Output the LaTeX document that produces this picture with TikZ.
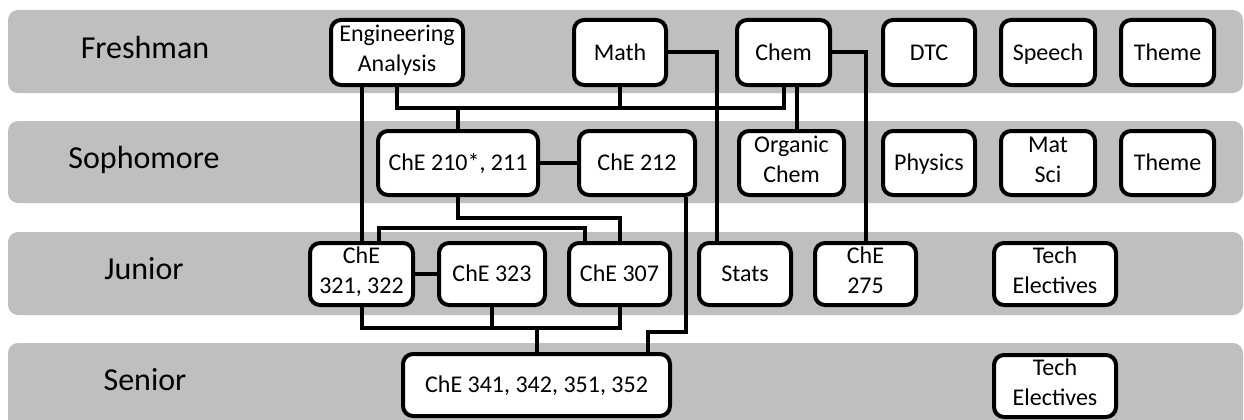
\documentclass[tikz,border=0pt]{standalone}
\usepackage{fontspec}
\setmainfont{Carlito}
\definecolor{bandgray}{RGB}{191,191,191}
\begin{document}
\begin{tikzpicture}[x=1pt,y=-1pt,
  band/.style={fill=bandgray, rounded corners=10pt},
  yearlabel/.style={anchor=base, inner sep=0pt, font=\fontsize{32}{38}\selectfont},
  crs/.style={draw=black, line width=4pt, fill=white, rounded corners=10pt, inner sep=0pt,
    font=\fontsize{24}{30}\selectfont, align=center, text height=15.5pt, text depth=0pt},
  crstwo/.style={crs, text height=38pt, text depth=0pt},
  conn/.style={line width=4pt}]
\clip (0,0) rectangle (1244,420);
% bands
\fill[band] (8,10) rectangle (1243,93);
\fill[band] (8,121) rectangle (1243,203);
\fill[band] (8,232) rectangle (1243,315);
\fill[band] (8,343) rectangle (1243,450);
% year labels
\node[yearlabel] (fr) at (145,58.3) {Freshman};
\node[yearlabel] (so) at (144,168) {Sophomore};
\node[yearlabel] (ju) at (144,279) {Junior};
\node[yearlabel] (se) at (145,390) {Senior};
% freshman
\node[crstwo, minimum width=132pt, minimum height=65pt] (ea) at (397,52.5) {Engineering\\Analysis};
\node[crs, minimum width=92pt, minimum height=65pt] (math) at (620,52.5) {Math};
\node[crs, minimum width=93pt, minimum height=65pt] (chem) at (783.5,52.5) {Chem};
\node[crs, minimum width=92pt, minimum height=65pt] (dtc) at (929,52.5) {DTC};
\node[crs, minimum width=94pt, minimum height=65pt] (speech) at (1048,52.5) {Speech};
\node[crs, minimum width=93pt, minimum height=65pt] (theme) at (1167.5,52.5) {Theme};
% sophomore
\node[crs, minimum width=160pt, minimum height=64pt] (c210) at (458,163) {ChE 210*, 211};
\node[crs, minimum width=116pt, minimum height=64pt] (c212) at (637,163) {ChE 212};
\node[crstwo, minimum width=105pt, minimum height=64pt] (org) at (791.5,163) {Organic\\Chem};
\node[crs, minimum width=92pt, minimum height=64pt] (phys) at (929,163) {Physics};
\node[crstwo, minimum width=94pt, minimum height=64pt] (matsci) at (1048,163) {Mat\\Sci};
\node[crs, minimum width=93pt, minimum height=64pt] (theme2) at (1167.5,163) {Theme};
% junior
\node[crstwo, minimum width=103pt, minimum height=62pt] (e321) at (361.5,274) {ChE\\321, 322};
\node[crs, minimum width=106pt, minimum height=62pt] (c323) at (492,274) {ChE 323};
\node[crs, minimum width=101pt, minimum height=62pt] (c307) at (619.5,274) {ChE 307};
\node[crs, minimum width=92pt, minimum height=62pt] (stats) at (745,274) {Stats};
\node[crstwo, minimum width=101pt, minimum height=62pt] (c275) at (865.5,274) {ChE\\275};
\node[crstwo, minimum width=122pt, minimum height=62pt] (te3) at (1055,274) {Tech\\Electives};
% senior
\node[crs, minimum width=267pt, minimum height=62pt] (c341) at (536.5,385) {ChE 341, 342, 351, 352};
\node[crstwo, minimum width=122pt, minimum height=62pt] (te4) at (1055,386) {Tech\\Electives};
% levels
\coordinate (lvA) at (0,108);
\coordinate (lvB) at (0,218);
\coordinate (lvC) at (0,228);
\coordinate (lvD) at (0,328);
\coordinate (lvE) at (0,332);
\coordinate (chemO) at ([xshift=13.5pt]chem.south);
\coordinate (statsIn) at ([xshift=-28pt]stats.north);
\coordinate (e321T) at ([xshift=17.5pt]e321.north);
\coordinate (c307T) at ([xshift=-34.5pt]c307.north);
\coordinate (c212B) at ([xshift=49pt]c212.south);
\coordinate (c341T) at ([xshift=111.5pt]c341.north);
% connectors
\draw[conn] (e321.north) -- (e321.north |- ea.south);
\draw[conn] (ea.south) -- (ea.south |- lvA) -| (chem.south);
\draw[conn] (math.south) -- (math.south |- lvA);
\draw[conn] (c210.north) -- (c210.north |- lvA);
\draw[conn] (chemO) -- (chemO |- org.north);
\draw[conn] (math.east) -| (statsIn);
\draw[conn] (chem.east) -| (c275.north);
\draw[conn] (c210.east) -- (c212.west);
\draw[conn] (c210.south) -- (c210.south |- lvB) -| (c307.north);
\draw[conn] (e321T) -- (e321T |- lvC) -| (c307T);
\draw[conn] (e321.east) -- (c323.west);
\draw[conn] (e321.south) -- (e321.south |- lvD) -| (c307.south);
\draw[conn] (c323.south) -- (c323.south |- lvD);
\draw[conn] (c341.north) -- (c341.north |- lvD);
\draw[conn] (c212B) -- (c212B |- lvE) -| (c341T);
\end{tikzpicture}
\end{document}
